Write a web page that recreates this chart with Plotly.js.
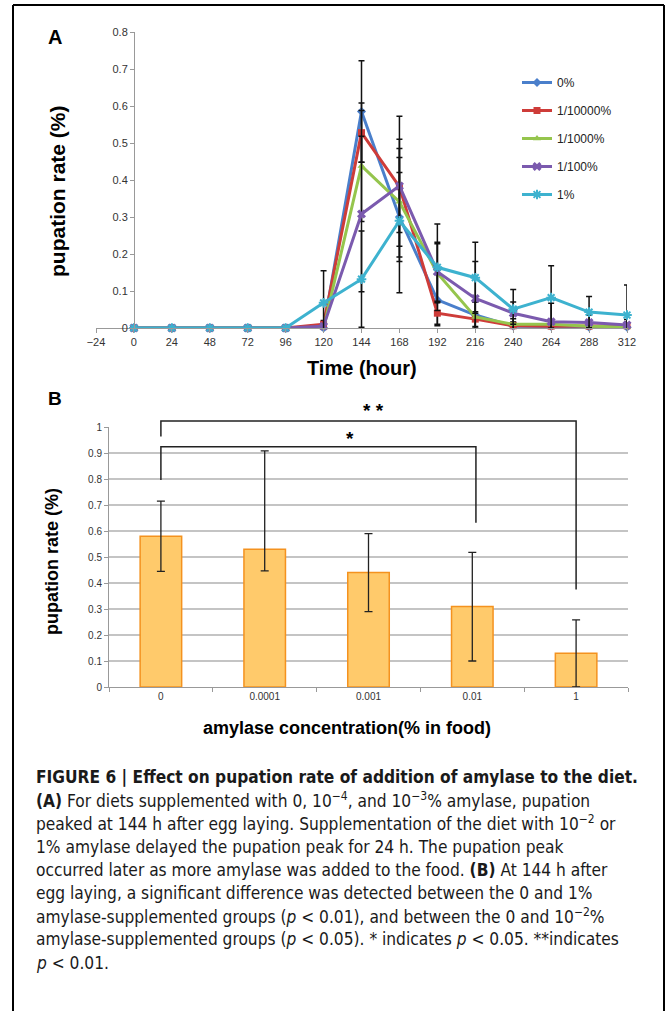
<!DOCTYPE html>
<html>
<head>
<meta charset="utf-8">
<script src="https://cdn.plot.ly/plotly-3.0.1.min.js"></script>
<style>
  html, body { margin: 0; padding: 0; background: #fff; }
  #chart { width: 671px; height: 1011px; }
</style>
</head>
<body>
<div id="chart"></div>
<script>
// ---------- Panel A data ----------
const hours = [0, 24, 48, 72, 96, 120, 144, 168, 192, 216, 240, 264, 288, 312];
const seriesNames = ['0%', '1/10000%', '1/1000%', '1/100%', '1%'];
const rate0    = [0, 0, 0, 0, 0, 0,     0.585, 0.30,  0.076, 0.035, 0.005, 0.004, 0.002, 0.002];
const rate1e4  = [0, 0, 0, 0, 0, 0.01,  0.528, 0.382, 0.04,  0.024, 0.006, 0.005, 0.005, 0.006];
const rate1e3  = [0, 0, 0, 0, 0, 0,     0.438, 0.341, 0.148, 0.03,  0.01,  0.01,  0.005, 0.003];
const rate1e2  = [0, 0, 0, 0, 0, 0.005, 0.308, 0.384, 0.152, 0.08,  0.04,  0.017, 0.015, 0.008];
const rate1    = [0, 0, 0, 0, 0, 0.068, 0.132, 0.29,  0.164, 0.136, 0.051, 0.082, 0.043, 0.035];
const err0     = [null, null, null, null, null, null,  0.137, 0.12,  0.07,  0.035, 0.01,  0.01,  0.005, 0.005];
const err1e4   = [null, null, null, null, null, 0.01,  0.08,  0.19,  0.03,  0.02,  0.01,  0.01,  0.01,  0.01];
const err1e3   = [null, null, null, null, null, null,  0.15,  0.12,  0.08,  0.04,  0.015, 0.01,  0.01,  0.005];
const err1e2   = [null, null, null, null, null, 0.005, 0.21,  0.126, 0.08,  0.1,   0.03,  0.05,  0.02,  0.015];
const err1     = [null, null, null, null, null, 0.087, 0.13,  0.195, 0.117, 0.096, 0.053, 0.086, 0.042, 0.081];

// ---------- Panel B data ----------
const concLabels = ['0', '0.0001', '0.001', '0.01', '1'];
const meanB      = [0.58, 0.53, 0.44, 0.31, 0.13];
const errUpB     = [0.135, 0.378, 0.15, 0.208, 0.128];
const errDownB   = [0.135, 0.083, 0.15, 0.21, 0.13];
// significance brackets: [from index, to index, label]
const sigFrom  = [0, 0];
const sigTo    = [4, 3];
const sigLabel = ['* *', '*'];

// ---------- geometry helpers (pixel -> paper) ----------
const W = 671, H = 1011;
const px = x => x / W;
const py = y => 1 - y / H;

const colors = ['#4A7FCB', '#CE3C39', '#95C54D', '#7B5AAE', '#3DB2CF'];
const symbols = ['diamond', 'square', 'triangle-up', 'x', 'asterisk-open'];
const ratesA = [rate0, rate1e4, rate1e3, rate1e2, rate1];
const errsA = [err0, err1e4, err1e3, err1e2, err1];

const traces = ratesA.map((r, i) => ({
  type: 'scatter',
  mode: 'lines+markers',
  x: hours,
  y: r,
  name: seriesNames[i],
  legendgroup: 'g' + i,
  xaxis: 'x',
  yaxis: 'y',
  cliponaxis: false,
  line: { color: colors[i], width: 3 },
  marker: {
    color: colors[i], size: (symbols[i] === 'asterisk-open' || symbols[i] === 'x') ? 8 : 7,
    symbol: symbols[i],
    line: { color: colors[i], width: symbols[i] === 'asterisk-open' ? 2 : 0 }
  },
  error_y: { type: 'data', array: errsA[i], visible: true, color: '#111', thickness: 1.5, width: 3 }
}));

traces.push({
  type: 'bar',
  x: concLabels,
  y: meanB,
  xaxis: 'x2',
  yaxis: 'y2',
  width: 0.4,
  showlegend: false,
  marker: { color: '#FFCA6B', line: { color: '#F4921F', width: 1.5 } },
  error_y: { type: 'data', symmetric: false, array: errUpB, arrayminus: errDownB,
             visible: true, color: '#222', thickness: 1.3, width: 4 }
});

// B axis mapping
const yB0 = py(687), yB1 = py(427);
const yBv = v => yB0 + v * (yB1 - yB0);

// Bracket geometry (value units on y2)
const bracketTop   = [1.023, 0.924];
const bracketLeft  = [0.963, 0.796];
const bracketRight = [0.375, 0.632];
const bracketRightOffset = [0, 0.035];
const starX = [2.05, 1.82];
const starY = [411, 438];

const shapes = [];
// figure frame
shapes.push({ type: 'line', xref: 'paper', yref: 'paper', x0: px(13), x1: px(664), y0: py(5), y1: py(5), line: { color: '#000', width: 2 } });
shapes.push({ type: 'line', xref: 'paper', yref: 'paper', x0: px(13), x1: px(13), y0: py(5), y1: 0, line: { color: '#000', width: 2 } });
shapes.push({ type: 'line', xref: 'paper', yref: 'paper', x0: px(664), x1: px(664), y0: py(5), y1: 0, line: { color: '#000', width: 2 } });

const annotations = [];
for (let k = 0; k < sigFrom.length; k++) {
  const xa = sigFrom[k], xb = sigTo[k] + bracketRightOffset[k];
  shapes.push({ type: 'path', xref: 'x2', yref: 'paper',
    path: `M ${xa} ${yBv(bracketLeft[k])} L ${xa} ${yBv(bracketTop[k])} L ${xb} ${yBv(bracketTop[k])} L ${xb} ${yBv(bracketRight[k])}`,
    line: { color: '#222', width: 1.5 } });
  annotations.push({ text: '<b>' + sigLabel[k] + '</b>', xref: 'x2', yref: 'paper', x: starX[k], y: py(starY[k]),
    showarrow: false, font: { family: 'Liberation Sans, Arial, sans-serif', size: 19, color: '#000' } });
}

const addText = (text, x, y, size, opts = {}) => annotations.push(Object.assign({
  text, xref: 'paper', yref: 'paper', x: px(x), y: py(y), showarrow: false,
  xanchor: 'center', yanchor: 'middle',
  font: { family: 'Liberation Sans, Arial, sans-serif', size, color: '#000' }
}, opts));

addText('<b>A</b>', 55, 37, 20);
addText('<b>B</b>', 55, 398, 19);
addText('<b>pupation rate (%)</b>', 57, 191, 21, { textangle: -90 });
addText('<b>Time (hour)</b>', 362, 368, 20);
addText('<b>pupation rate (%)</b>', 52, 562, 18, { textangle: -90 });
addText('<b>amylase concentration(% in food)</b>', 347, 728, 18);

// caption
const capFont = 'Liberation Sans Narrow, DejaVu Sans Condensed, Arial Narrow, sans-serif';
const captionLines = [
  '<b>FIGURE 6 | Effect on pupation rate of addition of amylase to the diet.</b>',
  '<b>(A)</b> For diets supplemented with 0, 10<sup>−4</sup>, and 10<sup>−3</sup>% amylase, pupation',
  'peaked at 144 h after egg laying. Supplementation of the diet with 10<sup>−2</sup> or',
  '1% amylase delayed the pupation peak for 24 h. The pupation peak',
  'occurred later as more amylase was added to the food. <b>(B)</b> At 144 h after',
  'egg laying, a significant difference was detected between the 0 and 1%',
  'amylase-supplemented groups (<i>p</i> < 0.01), and between the 0 and 10<sup>−2</sup>%',
  'amylase-supplemented groups (<i>p</i> < 0.05). * indicates <i>p</i> < 0.05. **indicates',
  '<i>p</i> < 0.01.'
];
captionLines.forEach((t, i) => {
  annotations.push({ text: t, xref: 'paper', yref: 'paper', x: px(34), y: py(777 + i * 23.2),
    xanchor: 'left', yanchor: 'middle', showarrow: false, align: 'left',
    font: { family: capFont, size: 17.2, color: '#1a1a1a' } });
});

const layout = {
  width: W, height: H,
  margin: { l: 0, r: 0, t: 0, b: 0 },
  paper_bgcolor: '#fff', plot_bgcolor: 'rgba(0,0,0,0)',
  font: { family: 'Liberation Sans, Arial, sans-serif', color: '#333' },
  showlegend: true,
  legend: {
    x: px(517), y: py(68), xanchor: 'left', yanchor: 'top',
    tracegroupgap: 9, itemwidth: 30,
    font: { size: 12, color: '#222', family: 'Liberation Sans, Arial, sans-serif' },
    bgcolor: 'rgba(0,0,0,0)'
  },
  xaxis: {
    domain: [px(96), px(627)], anchor: 'y', range: [-24, 312],
    tick0: 0, dtick: 24, ticks: 'outside', ticklen: 4, tickcolor: '#999',
    showline: true, linecolor: '#999', linewidth: 1, showgrid: false, zeroline: false,
    tickfont: { size: 11, color: '#333' }
  },
  yaxis: {
    domain: [py(328), py(32)], anchor: 'free', position: px(134), range: [0, 0.8],
    dtick: 0.1, ticks: 'outside', ticklen: 4, tickcolor: '#999',
    showline: true, linecolor: '#999', linewidth: 1, showgrid: false, zeroline: false,
    tickfont: { size: 11, color: '#333' }
  },
  xaxis2: {
    domain: [px(109), px(628)], anchor: 'y2', type: 'category',
    tickson: 'boundaries', ticks: 'outside', ticklen: 4, tickcolor: '#999',
    showline: true, linecolor: '#999', linewidth: 1, showgrid: false,
    tickfont: { size: 10, color: '#333' }
  },
  yaxis2: {
    domain: [yB0, yB1], anchor: 'x2', range: [0, 1], dtick: 0.1,
    ticks: 'outside', ticklen: 4, tickcolor: '#999',
    showline: true, linecolor: '#999', linewidth: 1,
    showgrid: true, gridcolor: '#c4c4c4', gridwidth: 1.5, zeroline: false,
    tickfont: { size: 10, color: '#333' }
  },
  shapes, annotations
};

Plotly.newPlot('chart', traces, layout, { staticPlot: true, displayModeBar: false });
</script>
</body>
</html>
